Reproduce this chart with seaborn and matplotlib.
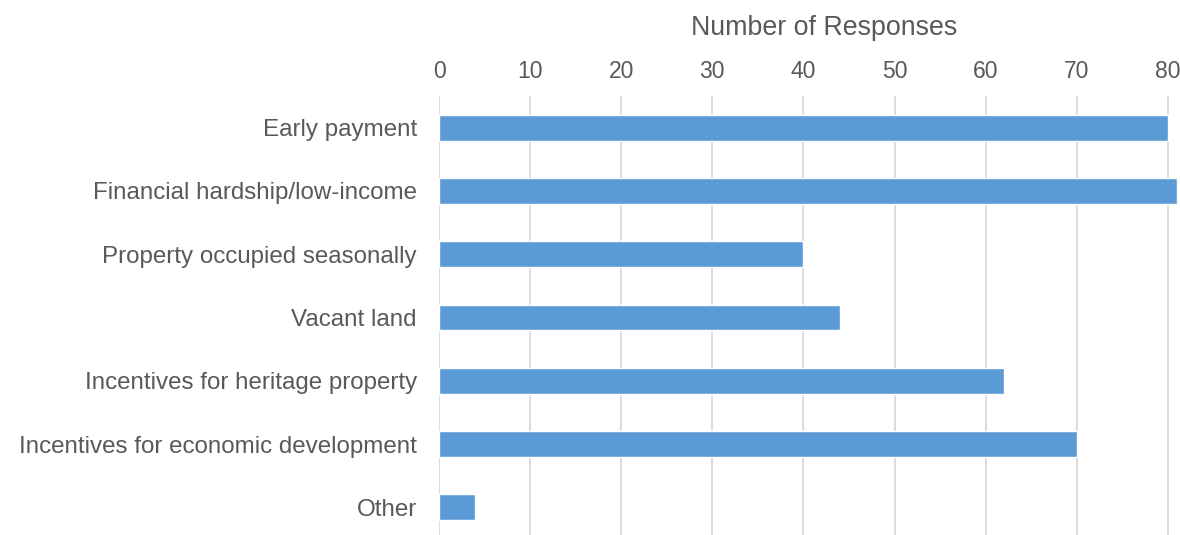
import matplotlib
matplotlib.use("Agg")
import matplotlib.pyplot as plt
import seaborn as sns
import pandas as pd

# Survey responses per category
categories = [
    "Early payment",
    "Financial hardship/low-income",
    "Property occupied seasonally",
    "Vacant land",
    "Incentives for heritage property",
    "Incentives for economic development",
    "Other",
]
responses = [80, 81, 40, 44, 62, 70, 4]
x_ticks = [0, 10, 20, 30, 40, 50, 60, 70, 80]

sns.set_theme(style="white")
plt.rcParams["font.family"] = ["Liberation Sans", "DejaVu Sans"]

TEXT = "#595959"
GRID = "#D9D9D9"
BAR = "#5B9BD5"

df = pd.DataFrame({"category": categories, "responses": responses})

fig = plt.figure(figsize=(11.8, 5.35), dpi=100)
ax = fig.add_axes([439 / 1180, -4 / 535, 741 / 1180, 443 / 535])

sns.barplot(data=df, y="category", x="responses", orient="h",
            color=BAR, width=0.41, saturation=1, ax=ax, zorder=3)

ax.set_xlim(0, 741 / 9.11)
ax.set_ylim(6.5, -0.5)
ax.set_xticks(x_ticks)
ax.xaxis.tick_top()
ax.xaxis.set_label_position("top")
ax.tick_params(axis="x", length=0, pad=9, labelsize=16.5, colors=TEXT)
ax.tick_params(axis="y", length=0, pad=16, labelsize=17.4, colors=TEXT)
ax.set_ylabel("")
ax.set_xlabel("")

for v in x_ticks:
    ax.axvline(v, color=GRID, lw=1.3, zorder=1)
ax.grid(False)
for s in ax.spines.values():
    s.set_visible(False)

fig.text(824 / 1180, 1 - 28 / 535, "Number of Responses", ha="center",
         va="center", fontsize=19.3, color=TEXT)

fig.savefig("out.png", dpi=100)
